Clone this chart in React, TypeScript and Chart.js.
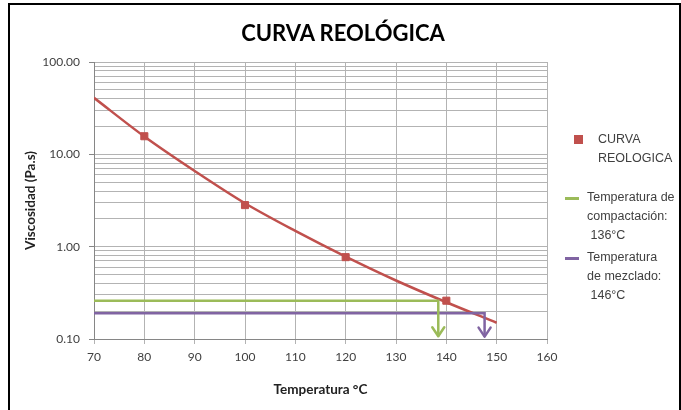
import React, { useEffect, useRef } from "react";
import { Chart, registerables } from "chart.js";

Chart.register(...registerables);

// Data
const pointTemps = [80, 100, 120, 140];
const pointVisc = [15.7, 2.82, 0.77, 0.26];
const trendTemps = [70, 80, 90, 100, 110, 120, 130, 140, 150];
const trendVisc = [40.9, 15.6, 6.6, 2.95, 1.48, 0.78, 0.43, 0.25, 0.15];
const compTemps = [70, 138.4, 138.4];
const compVisc = [0.26, 0.26, 0.107];
const mixTemps = [70, 147.6, 147.6];
const mixVisc = [0.19, 0.19, 0.106];
const yDecades = [0.1, 1, 10, 100];

const RED = "#c0504d";
const GREEN = "#9bbb59";
const PURPLE = "#8064a2";

const toXY = (xs: number[], ys: number[]) => xs.map((x, i) => ({ x, y: ys[i] }));

const arrowPlugin = {
  id: "arrowHeads",
  afterDatasetsDraw(chart: any) {
    const ctx = chart.ctx;
    chart.data.datasets.forEach((ds: any, i: number) => {
      if (!ds.arrow) return;
      const meta = chart.getDatasetMeta(i);
      const pts = meta.data;
      const p = pts[pts.length - 1];
      ctx.save();
      ctx.strokeStyle = ds.borderColor;
      ctx.lineWidth = ds.borderWidth;
      ctx.lineCap = "round";
      ctx.lineJoin = "round";
      ctx.beginPath();
      ctx.moveTo(p.x - 6, p.y - 9);
      ctx.lineTo(p.x, p.y);
      ctx.lineTo(p.x + 6, p.y - 9);
      ctx.stroke();
      ctx.restore();
    });
  },
};

export default function App() {
  const ref = useRef<HTMLCanvasElement>(null);
  useEffect(() => {
    const canvas = ref.current!;
    const chart = new Chart(canvas, {
      type: "scatter",
      data: {
        datasets: [
          {
            label: "trend",
            data: toXY(trendTemps, trendVisc),
            showLine: true,
            borderColor: RED,
            borderWidth: 2.5,
            pointRadius: 0,
            cubicInterpolationMode: "monotone",
            order: 3,
          } as any,
          {
            label: "Temperatura de compactación: 136°C",
            data: toXY(compTemps, compVisc),
            showLine: true,
            borderColor: GREEN,
            borderWidth: 2.5,
            pointRadius: 0,
            arrow: true,
            order: 2,
          } as any,
          {
            label: "Temperatura de mezclado: 146°C",
            data: toXY(mixTemps, mixVisc),
            showLine: true,
            borderColor: PURPLE,
            borderWidth: 2.5,
            pointRadius: 0,
            arrow: true,
            order: 2,
          } as any,
          {
            label: "CURVA REOLOGICA",
            data: toXY(pointTemps, pointVisc),
            showLine: false,
            backgroundColor: RED,
            borderColor: RED,
            pointStyle: "rect",
            pointRadius: 5,
            order: 1,
          } as any,
        ],
      },
      options: {
        animation: false,
        responsive: false,
        layout: { padding: { left: 0, right: 134, top: 62, bottom: 0 } },
        plugins: {
          legend: { display: false },
          tooltip: { enabled: false },
          title: { display: false },
        },
        scales: {
          x: {
            type: "linear",
            min: 70,
            max: 160,
            ticks: {
              stepSize: 10,
              color: "#404040",
              font: { family: "Lato", size: 12 },
              padding: 6,
            },
            grid: { color: "#b3b3b3", tickLength: 5, tickColor: "#b3b3b3" },
            border: { color: "#868686" },
            title: {
              display: true,
              text: "Temperatura °C",
              color: "#222",
              font: { family: "Lato", size: 13.5, weight: "bold" },
              padding: { top: 10, bottom: 12 },
            },
            afterFit: (s: any) => {
              s.height = 71;
            },
          },
          y: {
            type: "logarithmic",
            min: 0.1,
            max: 100,
            afterBuildTicks: (s: any) => {
              const vals: number[] = [];
              yDecades.forEach((d, i) => {
                if (i === yDecades.length - 1) {
                  vals.push(d);
                } else {
                  for (let k = 1; k <= 9; k++) vals.push(+(d * k).toPrecision(3));
                }
              });
              s.ticks = vals.map((v) => ({ value: v }));
            },
            ticks: {
              autoSkip: false,
              color: "#404040",
              font: { family: "Lato", size: 12 },
              padding: 9,
              callback: (v: any) => (yDecades.some((d) => Math.abs(d - v) < 1e-9) ? Number(v).toFixed(2) : ""),
            },
            grid: {
              color: "#b3b3b3",
              tickLength: 5,
              tickColor: (c: any) =>
                c.tick && yDecades.some((d) => Math.abs(d - c.tick.value) < 1e-9) ? "#868686" : "rgba(0,0,0,0)",
            },
            border: { color: "#868686" },
            title: {
              display: true,
              text: "Viscosidad (Pa.s)",
              color: "#222",
              font: { family: "Lato", size: 13.5, weight: "bold" },
              padding: { top: 23, bottom: 0 },
            },
            afterFit: (s: any) => {
              s.width = 94;
            },
          },
        },
      } as any,
      plugins: [arrowPlugin],
    });
    return () => chart.destroy();
  }, []);

  const legendText: React.CSSProperties = {
    position: "absolute",
    fontFamily: "Liberation Sans, Arial, sans-serif",
    fontSize: 12.5,
    color: "#404040",
    lineHeight: "19px",
    whiteSpace: "nowrap",
  };

  return (
    <div style={{ position: "absolute", left: 0, top: 0, width: 681, height: 410, overflow: "hidden", background: "#fff" }}>
      <div
        style={{
          position: "absolute",
          left: 8,
          top: 3,
          width: 673,
          height: 430,
          border: "2px solid #000",
          boxSizing: "border-box",
        }}
      />
      <canvas ref={ref} width={681} height={410} style={{ position: "absolute", left: 0, top: 0, width: 681, height: 410 }} />
      <div
        style={{
          position: "absolute",
          left: 0,
          width: 686,
          top: 18,
          textAlign: "center",
          fontFamily: "Lato",
          fontWeight: "bold",
          fontSize: 22,
          lineHeight: "30px",
          color: "#000",
        }}
      >
        CURVA REOLÓGICA
      </div>
      <div style={{ position: "absolute", left: 574, top: 135, width: 9, height: 9, background: RED }} />
      <div style={{ ...legendText, left: 598, top: 130 }}>
        CURVA
        <br />
        REOLOGICA
      </div>
      <div style={{ position: "absolute", left: 565, top: 197, width: 14, height: 3, background: GREEN }} />
      <div style={{ ...legendText, left: 587, top: 188 }}>
        Temperatura de
        <br />
        compactación:
        <br />
        &nbsp;136°C
      </div>
      <div style={{ position: "absolute", left: 565, top: 257, width: 14, height: 3, background: PURPLE }} />
      <div style={{ ...legendText, left: 587, top: 248 }}>
        Temperatura
        <br />
        de mezclado:
        <br />
        &nbsp;146°C
      </div>
    </div>
  );
}
